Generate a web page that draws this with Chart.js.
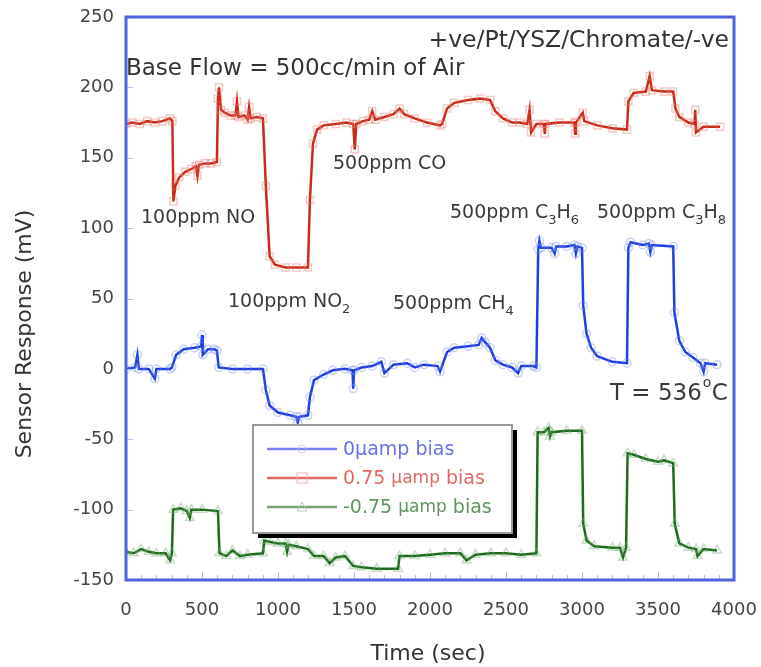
<!DOCTYPE html>
<html>
<head>
<meta charset="utf-8">
<script src="https://cdn.jsdelivr.net/npm/chart.js@4.4.1/dist/chart.umd.min.js"></script>
<style>
  body { margin: 0; background: #fff; }
  #wrap { width: 761px; height: 667px; }
</style>
</head>
<body>
<div id="wrap"><canvas id="sensor"></canvas></div>
<script>
// time (sec) and response (mV)
const redTime = [0,40,90,140,190,240,290,305,312,325,350,390,430,460,470,480,520,560,598,605,612,625,650,690,720,730,740,780,800,810,820,860,901,920,945,980,1050,1120,1197,1210,1230,1257,1300,1380,1450,1495,1505,1515,1560,1600,1620,1640,1700,1760,1800,1830,1900,1980,2066,2080,2112,2160,2250,2330,2395,2430,2480,2540,2592,2640,2655,2665,2700,2750,2755,2760,2850,2950,2955,2960,3005,3015,3100,3200,3296,3305,3340,3420,3445,3460,3540,3600,3615,3640,3700,3740,3745,3750,3800,3908];
const redMv = [174,175,174,176,175,176,178,176,119,130,136,140,142,144,137,145,146,146,147,192,200,184,182,180,180,190,179,180,177,186,178,179,178,130,80,74,72,72,72,120,160,170,173,174,175,174,156,174,176,177,183,177,179,181,185,181,178,175,173,174,185,189,191,192,191,183,178,175,175,174,184,168,174,174,167,174,175,175,167,175,182,176,173,171,170,190,196,197,208,198,197,197,185,179,175,174,184,168,172,172];

const blueTime = [0,60,75,85,150,190,200,290,302,330,380,450,495,500,505,540,580,598,610,700,800,901,920,945,1000,1080,1120,1130,1140,1197,1210,1237,1300,1360,1440,1490,1495,1500,1550,1620,1680,1700,1760,1850,1900,1960,2050,2066,2112,2160,2250,2320,2340,2362,2395,2430,2480,2540,2580,2600,2680,2700,2712,2720,2730,2800,2820,2830,2900,2950,2960,2970,3000,3008,3030,3060,3100,3200,3296,3305,3320,3400,3440,3450,3460,3600,3608,3640,3680,3730,3780,3800,3810,3888];
const blueMv = [0,1,10,0,0,-7,0,0,1,10,14,15,16,24,10,14,14,13,1,0,0,0,-15,-26,-31,-33,-34,-38,-34,-33,-20,-8,-4,-1,0,-1,-14,-1,1,2,5,-3,3,4,1,3,2,-2,12,15,16,17,22,19,15,6,3,1,-3,2,2,1,85,91,86,86,82,87,87,88,82,87,86,45,25,15,9,5,4,86,90,88,89,83,88,87,40,20,12,8,4,-2,4,3];

const greenTime = [0,50,100,150,200,260,290,302,310,360,400,420,430,500,605,615,660,700,750,800,901,910,950,1000,1050,1060,1070,1120,1197,1237,1300,1340,1380,1440,1494,1550,1650,1790,1800,1900,2000,2100,2200,2240,2300,2400,2500,2600,2700,2708,2750,2780,2790,2800,2900,3000,3008,3030,3080,3200,3250,3270,3290,3300,3340,3420,3500,3540,3600,3610,3640,3700,3750,3760,3800,3888];
const greenMv = [-130,-131,-128,-130,-131,-131,-136,-131,-100,-99,-101,-106,-100,-100,-101,-131,-133,-129,-133,-132,-131,-122,-123,-124,-124,-130,-125,-126,-128,-133,-133,-138,-134,-133,-140,-141,-142,-142,-133,-133,-132,-131,-131,-136,-132,-131,-131,-132,-131,-45,-45,-42,-48,-45,-44,-44,-110,-122,-126,-127,-127,-134,-127,-60,-61,-64,-66,-65,-67,-110,-124,-127,-128,-133,-128,-129];

const xTicks = [0, 500, 1000, 1500, 2000, 2500, 3000, 3500, 4000];
const yTicks = [-150, -100, -50, 0, 50, 100, 150, 200, 250];

function pairs(ts, vs) {
  return ts.map((t, i) => ({ x: t, y: vs[i] }));
}

const FONT = '"DejaVu Sans", Verdana, sans-serif';

// text, frame, inner ticks and the boxed legend
const decorations = {
  id: 'decorations',
  afterDraw(chart) {
    const ctx = chart.ctx;
    const a = chart.chartArea;
    const xs = chart.scales.x, ys = chart.scales.y;
    ctx.save();

    // inner ticks
    ctx.strokeStyle = '#b4bdf2';
    ctx.lineWidth = 1;
    for (let t = 100; t < 4000; t += 100) {
      const px = Math.round(xs.getPixelForValue(t)) + 0.5;
      const len = t % 500 === 0 ? 8 : 5;
      ctx.beginPath();
      ctx.moveTo(px, a.bottom);
      ctx.lineTo(px, a.bottom - len);
      ctx.stroke();
    }
    yTicks.forEach(v => {
      const py = Math.round(ys.getPixelForValue(v)) + 0.5;
      ctx.beginPath();
      ctx.moveTo(a.left, py);
      ctx.lineTo(a.left + 7, py);
      ctx.stroke();
    });

    // frame
    ctx.strokeStyle = '#4f63e3';
    ctx.lineWidth = 3;
    ctx.strokeRect(a.left, a.top, a.right - a.left, a.bottom - a.top);

    // axis titles
    ctx.fillStyle = '#333';
    ctx.font = '22px ' + FONT;
    ctx.textAlign = 'center';
    ctx.textBaseline = 'middle';
    ctx.fillText('Time (sec)', 428, 654);
    ctx.save();
    ctx.translate(25, 334);
    ctx.rotate(-Math.PI / 2);
    ctx.fillText('Sensor Response (mV)', 0, 0);
    ctx.restore();

    // annotations
    ctx.fillStyle = '#333';
    ctx.font = '23.5px ' + FONT;
    ctx.textAlign = 'right';
    ctx.fillText('+ve/Pt/YSZ/Chromate/-ve', 729, 41);
    ctx.textAlign = 'left';
    ctx.font = '23px ' + FONT;
    ctx.fillText('Base Flow = 500cc/min of Air', 126, 69);

    function label(parts, x, y) {
      let cx = x;
      parts.forEach(p => {
        ctx.font = (p.sub ? '13px ' : '19px ') + FONT;
        ctx.fillText(p.t, cx, y + (p.sub ? 8 : 0));
        cx += ctx.measureText(p.t).width;
      });
    }
    ctx.fillStyle = '#3a3a3a';
    label([{ t: '100ppm NO' }], 141, 218);
    label([{ t: '500ppm CO' }], 333, 164);
    label([{ t: '100ppm NO' }, { t: '2', sub: true }], 228, 302);
    label([{ t: '500ppm CH' }, { t: '4', sub: true }], 393, 304);
    label([{ t: '500ppm C' }, { t: '3', sub: true }, { t: 'H' }, { t: '6', sub: true }], 450, 213);
    label([{ t: '500ppm C' }, { t: '3', sub: true }, { t: 'H' }, { t: '8', sub: true }], 597, 213);
    ctx.font = '23px ' + FONT;
    ctx.fillText('T = 536', 610, 394);
    let tw = ctx.measureText('T = 536').width;
    ctx.font = '14px ' + FONT;
    ctx.fillText('o', 611 + tw, 383);
    ctx.font = '23px ' + FONT;
    ctx.fillText('C', 611 + tw + 9, 394);

    // legend box
    const bx = 253, by = 425, bw = 259, bh = 108;
    ctx.fillStyle = '#000';
    ctx.fillRect(bx + 5, by + 5, bw, bh);
    ctx.fillStyle = '#fff';
    ctx.fillRect(bx, by, bw, bh);
    ctx.strokeStyle = '#9a9a9a';
    ctx.lineWidth = 2;
    ctx.strokeRect(bx, by, bw, bh);

    const rows = [
      { y: 449, line: '#7a80f2', text: '#6a70ea', style: 'circle', parts: [['0', 19], ['μamp bias', 19]] },
      { y: 478, line: '#e06a64', text: '#e06a64', style: 'rect', parts: [['0.75 ', 19], ['μamp', 17], [' bias', 19]] },
      { y: 507, line: '#76a276', text: '#5e965e', style: 'triangle', parts: [['-0.75 ', 19], ['μamp', 17], [' bias', 19]] }
    ];
    rows.forEach(r => {
      ctx.strokeStyle = r.line;
      ctx.lineWidth = 2.5;
      ctx.beginPath();
      ctx.moveTo(267, r.y);
      ctx.lineTo(337, r.y);
      ctx.stroke();
      ctx.lineWidth = 1;
      ctx.strokeStyle = 'rgba(200,200,220,0.8)';
      if (r.style === 'circle') {
        ctx.beginPath(); ctx.arc(302, r.y, 4, 0, Math.PI * 2); ctx.stroke();
      } else if (r.style === 'rect') {
        ctx.strokeStyle = 'rgba(240,170,170,0.9)';
        ctx.strokeRect(297, r.y - 5, 10, 10);
      } else {
        ctx.strokeStyle = 'rgba(170,200,170,0.9)';
        ctx.beginPath(); ctx.moveTo(302, r.y - 5); ctx.lineTo(307, r.y + 4); ctx.lineTo(297, r.y + 4); ctx.closePath(); ctx.stroke();
      }
      ctx.fillStyle = r.text;
      let cx = 343;
      r.parts.forEach(p => {
        ctx.font = p[1] + 'px ' + FONT;
        ctx.fillText(p[0], cx, r.y + 1);
        cx += ctx.measureText(p[0]).width;
      });
    });

    ctx.restore();
  }
};

const ctx = document.getElementById('sensor').getContext('2d');

const chart = new Chart(ctx, {
  type: 'line',
  data: {
    datasets: [
      {
        label: '0μamp bias',
        data: pairs(blueTime, blueMv),
        borderColor: '#1f3fe3',
        borderWidth: 2.5,
        pointStyle: 'circle',
        pointRadius: 4,
        pointBorderWidth: 1.5,
        pointBorderColor: 'rgba(120,140,240,0.4)',
        pointBackgroundColor: 'rgba(0,0,0,0)'
      },
      {
        label: '0.75 μamp bias',
        data: pairs(redTime, redMv),
        borderColor: '#cc2a18',
        borderWidth: 2.5,
        pointStyle: 'rect',
        pointRadius: 5,
        pointBorderWidth: 1.5,
        pointBorderColor: 'rgba(230,120,110,0.4)',
        pointBackgroundColor: 'rgba(0,0,0,0)'
      },
      {
        label: '-0.75 μamp bias',
        data: pairs(greenTime, greenMv),
        borderColor: '#1d6a1d',
        borderWidth: 2.5,
        pointStyle: 'triangle',
        pointRadius: 5,
        pointBorderWidth: 1.5,
        pointBorderColor: 'rgba(110,170,110,0.4)',
        pointBackgroundColor: 'rgba(0,0,0,0)'
      }
    ]
  },
  options: {
    responsive: true,
    maintainAspectRatio: false,
    animation: false,
    layout: { padding: { left: 0, top: 17, right: 27, bottom: 0 } },
    plugins: {
      legend: { display: false },
      tooltip: { enabled: false }
    },
    elements: { line: { tension: 0 } },
    scales: {
      x: {
        type: 'linear',
        min: 0,
        max: 4000,
        afterFit: s => { s.height = 87; s.paddingLeft = 0; s.paddingRight = 0; },
        afterBuildTicks: s => { s.ticks = xTicks.map(v => ({ value: v })); },
        grid: { display: false, drawTicks: false },
        border: { display: false },
        ticks: { color: '#444', font: { family: FONT, size: 18 }, padding: 20, maxRotation: 0, callback: v => String(v) }
      },
      y: {
        type: 'linear',
        min: -150,
        max: 250,
        afterFit: s => { s.width = 126; s.paddingTop = 0; s.paddingBottom = 0; },
        afterBuildTicks: s => { s.ticks = yTicks.map(v => ({ value: v })); },
        grid: { display: false, drawTicks: false },
        border: { display: false },
        ticks: { color: '#444', font: { family: FONT, size: 18 }, padding: 12, callback: v => String(v) }
      }
    }
  },
  plugins: [decorations]
});
</script>
</body>
</html>
